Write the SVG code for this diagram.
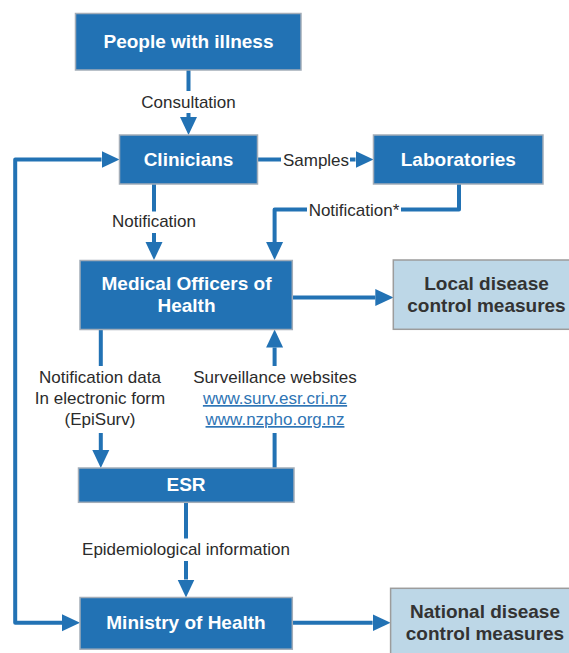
<svg xmlns="http://www.w3.org/2000/svg" width="569" height="653" viewBox="0 0 569 653">
<defs>
<marker id="ah" markerUnits="userSpaceOnUse" markerWidth="18" markerHeight="18" refX="0" refY="8.5" orient="auto-start-reverse" viewBox="0 0 18 17">
<path d="M0,0 L18,8.5 L0,17 z" fill="#2272B4"/>
</marker>
<style>
.box{fill:#2272B4;stroke:#a3adb8;stroke-width:1.5}
.lbox{fill:#BDD7E7;stroke:#9c9c9c;stroke-width:1.5}
.nt{font-family:"Liberation Sans",Arial,sans-serif;font-weight:bold;font-size:19px;fill:#ffffff;text-anchor:middle}
.lt{font-family:"Liberation Sans",Arial,sans-serif;font-weight:bold;font-size:19px;fill:#333333;text-anchor:middle}
.lab{font-family:"Liberation Sans",Arial,sans-serif;font-size:17px;fill:#2b2b2b;text-anchor:middle}
.link{font-family:"Liberation Sans",Arial,sans-serif;font-size:17px;fill:#2F75B5;text-anchor:middle;text-decoration:underline}
.c{fill:none;stroke:#2272B4;stroke-width:4;stroke-linejoin:round}
</style>
</defs>
<rect width="569" height="653" fill="#ffffff"/>
<g id="connectors">
<path class="c" d="M188.5,70 V91 M188.5,113 V117" marker-end="url(#ah)"/>
<path class="c" d="M257.5,159.5 H281 M350,159.5 H355.5" marker-end="url(#ah)"/>
<path class="c" d="M154,184 V211.5 M154,233 V242" marker-end="url(#ah)"/>
<path class="c" d="M459,184 V209.5 H401 M307,209.5 H274.6 V242" marker-end="url(#ah)"/>
<path class="c" d="M292.3,297.5 H375.3" marker-end="url(#ah)"/>
<path class="c" d="M100.8,329.5 V366 M100.8,433 V450" marker-end="url(#ah)"/>
<path class="c" d="M274.6,468 V433 M274.6,366 V347.5" marker-end="url(#ah)"/>
<path class="c" d="M186,502.3 V538.5 M186,561 V579.5" marker-end="url(#ah)"/>
<path class="c" d="M101.5,159.5 H15.2 V622.7 H62" marker-start="url(#ah)" marker-end="url(#ah)"/>
<path class="c" d="M292.3,622.7 H372.6" marker-end="url(#ah)"/>
</g>
<g id="labels">
<text class="lab" x="188.5" y="108">Consultation</text>
<text class="lab" x="316" y="165.5">Samples</text>
<text class="lab" x="154" y="227">Notification</text>
<text class="lab" x="354" y="215.5">Notification*</text>
<text class="lab" x="100" y="383">Notification data</text>
<text class="lab" x="100" y="404">In electronic form</text>
<text class="lab" x="100" y="425">(EpiSurv)</text>
<text class="lab" x="275" y="383">Surveillance websites</text>
<text class="link" x="275" y="404">www.surv.esr.cri.nz</text>
<text class="link" x="275" y="425">www.nzpho.org.nz</text>
<text class="lab" x="186" y="555">Epidemiological information</text>
</g>
<g id="people">
<rect class="box" x="75.5" y="13.5" width="225.5" height="56.5"/>
<text class="nt" x="188.5" y="48">People with illness</text>
</g>
<g id="clinicians">
<rect class="box" x="119.5" y="135" width="138" height="49"/>
<text class="nt" x="188.5" y="165.5">Clinicians</text>
</g>
<g id="laboratories">
<rect class="box" x="373.5" y="135" width="169.5" height="49"/>
<text class="nt" x="458.3" y="165.5">Laboratories</text>
</g>
<g id="moh">
<rect class="box" x="80" y="260.5" width="212.3" height="69"/>
<text class="nt" x="186.5" y="289.5">Medical Officers of</text>
<text class="nt" x="186.5" y="311.5">Health</text>
</g>
<g id="local">
<rect class="lbox" x="393.3" y="260" width="195" height="69.3"/>
<text class="lt" x="486.5" y="289.5">Local disease</text>
<text class="lt" x="486.5" y="311.5">control measures</text>
</g>
<g id="esr">
<rect class="box" x="78.5" y="468" width="215.5" height="34.3"/>
<text class="nt" x="186" y="491">ESR</text>
</g>
<g id="ministry">
<rect class="box" x="80" y="597.5" width="212.3" height="51.7"/>
<text class="nt" x="186" y="628.5">Ministry of Health</text>
</g>
<g id="national">
<rect class="lbox" x="390.6" y="588.3" width="195" height="75"/>
<text class="lt" x="485" y="617.5">National disease</text>
<text class="lt" x="485" y="640">control measures</text>
</g>
</svg>
